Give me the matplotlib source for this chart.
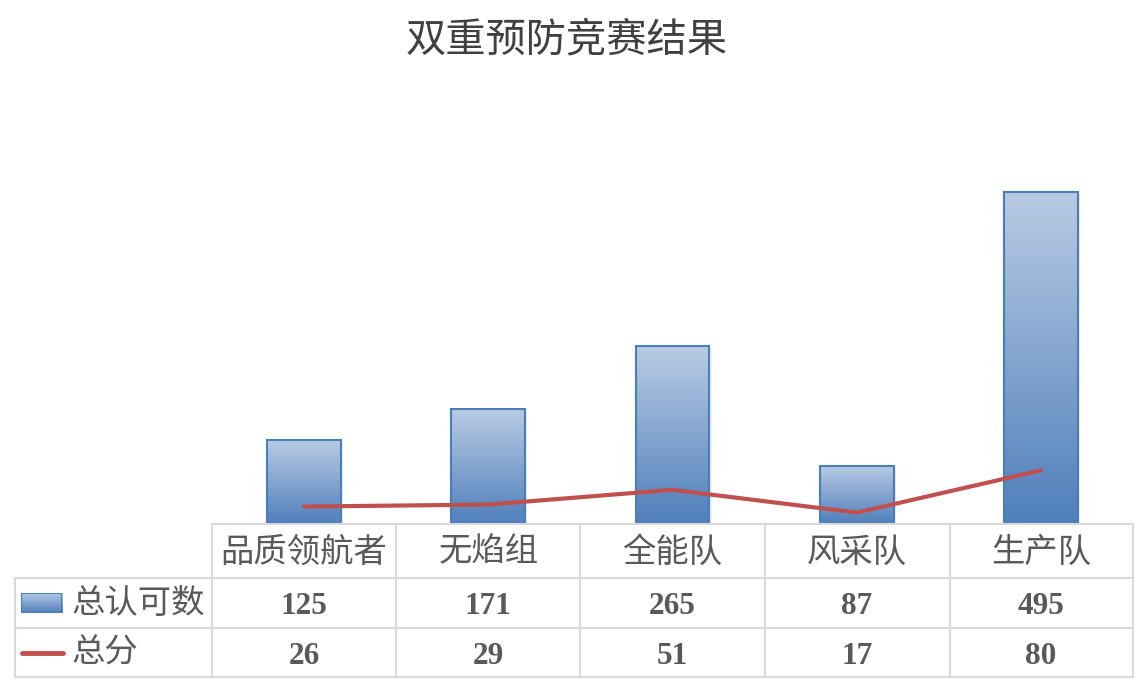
import numpy as np
import matplotlib.pyplot as plt
from matplotlib.colors import LinearSegmentedColormap
from matplotlib.lines import Line2D
from matplotlib.patches import Rectangle
import matplotlib.transforms as mtransforms

teams = ['品质领航者', '无焰组', '全能队', '风采队', '生产队']
approvals = [125, 171, 265, 87, 495]
scores = [26, 29, 51, 17, 80]
series_names = ['总认可数', '总分']
title = '双重预防竞赛结果'

cjk = ['Noto Sans CJK SC', 'DejaVu Sans']
num_font = 'Liberation Serif'
txt_color = '#595959'
grid_color = '#d9d9d9'
bar_edge = '#4a7ebb'
line_color = '#c0504d'

W, H = 1137, 683
fig = plt.figure(figsize=(W / 100, H / 100), dpi=100)

def fx(px):
    return px / W

def fy(py):
    return 1 - py / H

ax_left, ax_right, ax_top, ax_bottom = 212, 1133, 122, 524
ax = fig.add_axes([fx(ax_left), fy(ax_bottom), fx(ax_right - ax_left), fy(ax_top) - fy(ax_bottom)])
ax.set_xlim(-0.5, len(teams) - 0.5)
ax.set_ylim(0, 600)
ax.axis('off')

grad = LinearSegmentedColormap.from_list('g', ['#4f7fbb', '#b9cbe4'])
x = np.arange(len(teams))
bw = 0.40
bars = ax.bar(x, approvals, width=bw, color='none', edgecolor=bar_edge, linewidth=1.5, zorder=3)
for b in bars:
    bx, by = b.get_x(), b.get_y()
    h = b.get_height()
    # soft shadow
    ax.add_patch(Rectangle((bx + 0.012, by), b.get_width(), h - 2, color='#000000', alpha=0.06, zorder=1, lw=0))
    im = ax.imshow(np.linspace(0, 1, 256).reshape(-1, 1), cmap=grad, aspect='auto',
                   extent=[bx, bx + b.get_width(), by, by + h], origin='lower', zorder=2)
    im.set_clip_path(b)

ax.plot(x, scores, color=line_color, linewidth=3, solid_capstyle='round', zorder=4)
ax.set_xlim(-0.5, len(teams) - 0.5)
ax.set_ylim(0, 600)

# data table
cols = [212, 396, 580, 765, 950, 1133]
rows = [524, 578, 628, 677]
left_edge = 15

def hline(x0, x1, y):
    fig.add_artist(Line2D([fx(x0), fx(x1)], [fy(y), fy(y)], color=grid_color, lw=1.5))

def vline(x0, y0, y1):
    fig.add_artist(Line2D([fx(x0), fx(x0)], [fy(y0), fy(y1)], color=grid_color, lw=1.5))

hline(cols[0], cols[-1], rows[0])
for r in rows[1:]:
    hline(left_edge, cols[-1], r)
for c in cols:
    vline(c, rows[0], rows[-1])
vline(left_edge, rows[1], rows[-1])

trans = mtransforms.blended_transform_factory(ax.transData, fig.transFigure)
for i, t in enumerate(teams):
    fig.text(i, fy((rows[0] + rows[1]) / 2 + 1), t, transform=trans, ha='center', va='center',
             fontsize=24, color=txt_color, family=cjk)
    fig.text(i, fy((rows[1] + rows[2]) / 2 + 4), str(approvals[i]), transform=trans, ha='center',
             va='center', fontsize=22.5, fontweight='bold', color=txt_color, family=num_font)
    fig.text(i, fy((rows[2] + rows[3]) / 2 + 4), str(scores[i]), transform=trans, ha='center',
             va='center', fontsize=22.5, fontweight='bold', color=txt_color, family=num_font)

# legend keys in table row headers
key_ax = fig.add_axes([fx(21), fy(613), fx(41), fy(593) - fy(613)])
key_ax.imshow(np.linspace(0, 1, 64).reshape(-1, 1), cmap=grad, aspect='auto', origin='lower',
              extent=[0, 1, 0, 1])
key_ax.add_patch(Rectangle((0, 0), 1, 1, fill=False, edgecolor=bar_edge, lw=1.5))
key_ax.set_xlim(0, 1)
key_ax.set_ylim(0, 1)
key_ax.axis('off')
fig.add_artist(Line2D([fx(22), fx(63)], [fy(653), fy(653)], color=line_color, lw=3.5,
                      solid_capstyle='round'))
fig.text(fx(72), fy(603), series_names[0], ha='left', va='center', fontsize=24, color=txt_color, family=cjk)
fig.text(fx(72), fy(653), series_names[1], ha='left', va='center', fontsize=24, color=txt_color, family=cjk)

fig.text(fx(567), fy(40), title, ha='center', va='center', fontsize=29, color='#404040', family=cjk)

fig.savefig('out.png', dpi=100)
